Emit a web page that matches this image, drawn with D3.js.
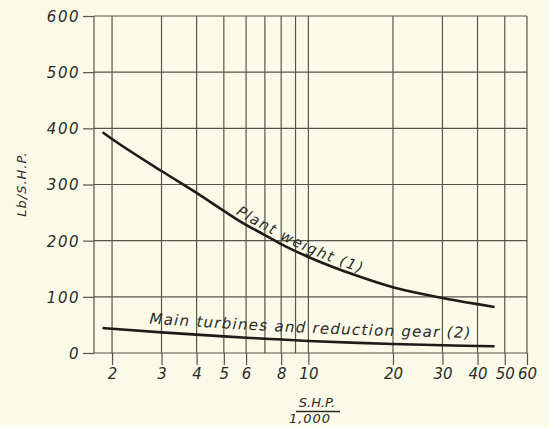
<!DOCTYPE html>
<html>
<head>
<meta charset="utf-8">
<script src="https://cdn.jsdelivr.net/npm/d3@7"></script>
<style>
  body { margin: 0; background: #fbfae9; }
  svg { display: block; }
  text { font-family: "DejaVu Sans", sans-serif; font-style: oblique; fill: #2a2a25; }
  .tick line { stroke: #55564a; stroke-width: 1.2; }
  .grid line { stroke: #55564a; stroke-width: 1.2; }
</style>
</head>
<body>
<svg id="chart"></svg>
<script>
// S.H.P. / 1,000 sample points
const shp = [1.85, 2, 3, 4, 5, 6, 7, 8, 10, 15, 20, 30, 40, 46];
const plantWeight = [393, 381, 324, 285, 253, 228, 210, 194, 171, 137, 117, 98, 87, 82];
const turbinesGear = [44.5, 43.2, 36.8, 32.7, 29.6, 27.2, 25.5, 23.9, 21.5, 18, 16, 13.7, 12.5, 11.9];

const xGrid = [2, 3, 4, 5, 6, 7, 8, 9, 10, 20, 30, 40, 50, 60];
const xTicks = [2, 3, 4, 5, 6, 8, 10, 20, 30, 40, 50, 60];
const yTicks = [0, 100, 200, 300, 400, 500, 600];

const W = 549, H = 427;
const margin = { top: 16, right: 22, bottom: 74, left: 94 };

const svg = d3.select("#chart").attr("width", W).attr("height", H);
svg.append("rect").attr("width", W).attr("height", H).attr("fill", "#fbfae9");

const x = d3.scaleLog().domain([1.725, 60]).range([margin.left, W - margin.right]);
const y = d3.scaleLinear().domain([0, 600]).range([H - margin.bottom, margin.top]);

// grid
const grid = svg.append("g").attr("class", "grid");
grid.selectAll(".v").data(xGrid).join("line").attr("class", "v")
  .attr("x1", d => x(d)).attr("x2", d => x(d))
  .attr("y1", y(0)).attr("y2", y(600));
grid.selectAll(".h").data(yTicks).join("line").attr("class", "h")
  .attr("x1", x.range()[0]).attr("x2", x.range()[1])
  .attr("y1", d => y(d)).attr("y2", d => y(d));
grid.append("line")
  .attr("x1", x.range()[0]).attr("x2", x.range()[0])
  .attr("y1", y(0)).attr("y2", y(600));

// axes
const yAxis = d3.axisLeft(y).tickValues(yTicks).tickSize(11).tickPadding(3).tickFormat(d => d);
const yAxisG = svg.append("g").attr("transform", `translate(${margin.left},0)`).call(yAxis);
yAxisG.select(".domain").remove();
yAxisG.selectAll("text").style("font-size", "15px").attr("letter-spacing", "1.5px").attr("dy", "0.36em");

const xAxis = d3.axisBottom(x).tickValues(xTicks).tickSize(12).tickPadding(3).tickFormat(d => d);
const xAxisG = svg.append("g").attr("transform", `translate(0,${y(0)})`).call(xAxis);
xAxisG.select(".domain").remove();
xAxisG.selectAll("text").style("font-size", "15px");

// axis titles
svg.append("text")
  .attr("transform", `translate(26,184) rotate(-90)`)
  .attr("text-anchor", "middle")
  .style("font-size", "13px")
  .attr("letter-spacing", "1px")
  .text("Lb/S.H.P.");

svg.append("text").attr("x", 317).attr("y", 407).attr("text-anchor", "middle")
  .style("font-size", "13px").text("S.H.P.");
svg.append("line").attr("x1", 296).attr("x2", 340).attr("y1", 411.5).attr("y2", 411.5)
  .attr("stroke", "#2a2a25").attr("stroke-width", 1.3);
svg.append("text").attr("x", 310).attr("y", 423).attr("text-anchor", "middle")
  .style("font-size", "13px").attr("letter-spacing", "1px").text("1,000");

// curves
const line = d3.line().x(d => x(d[0])).y(d => y(d[1])).curve(d3.curveMonotoneX);

const series = [
  { id: "c1", values: plantWeight, label: "Plant weight (1)", from: 5.4, len: 140, dy: -4, size: 14.5 },
  { id: "c2", values: turbinesGear, label: "Main turbines and reduction gear (2)", from: 2.7, len: 322, dy: -8, size: 15 }
];

function lengthAtX(node, px) {
  let lo = 0, hi = node.getTotalLength();
  for (let i = 0; i < 30; i++) {
    const mid = (lo + hi) / 2;
    if (node.getPointAtLength(mid).x < px) lo = mid; else hi = mid;
  }
  return lo;
}

series.forEach(s => {
  const p = svg.append("path")
    .attr("id", s.id)
    .datum(shp.map((v, i) => [v, s.values[i]]))
    .attr("fill", "none")
    .attr("stroke", "#1c1c18")
    .attr("stroke-width", 2.6)
    .attr("d", line);

  svg.append("text")
    .style("font-size", s.size + "px")
    .attr("dy", s.dy)
    .append("textPath")
    .attr("href", "#" + s.id)
    .attr("startOffset", lengthAtX(p.node(), x(s.from)))
    .attr("textLength", s.len)
    .attr("lengthAdjust", "spacing")
    .text(s.label);
});
</script>
</body>
</html>
